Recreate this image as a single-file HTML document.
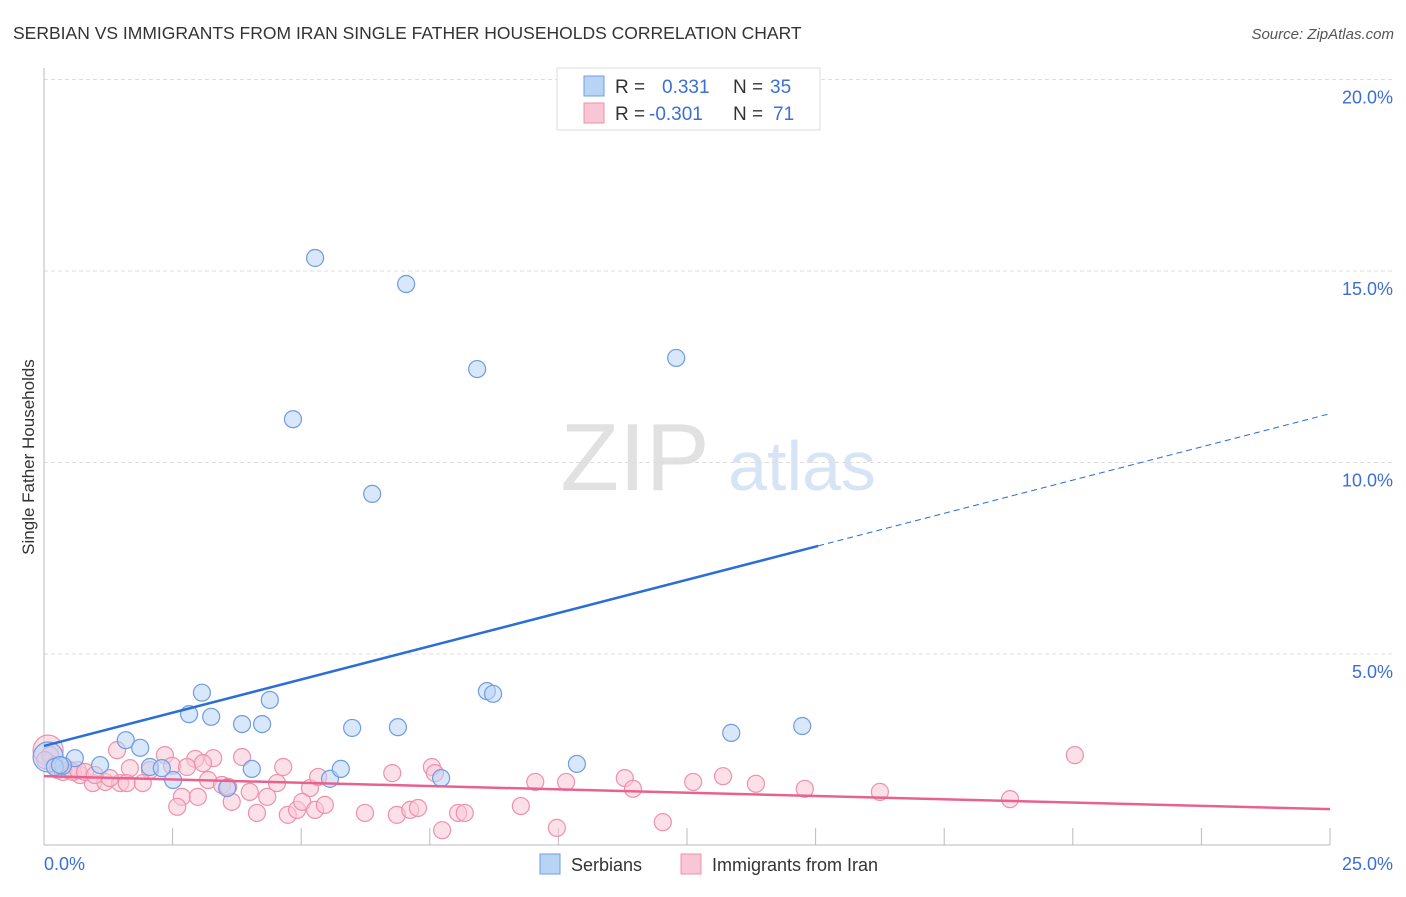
<!DOCTYPE html>
<html><head><meta charset="utf-8"><style>
body{margin:0;background:#fff;font-family:"Liberation Sans",sans-serif;}
svg text{font-family:"Liberation Sans",sans-serif;}
</style></head><body>
<svg id="chart" width="1406" height="892" xmlns="http://www.w3.org/2000/svg">
<text x="13" y="39" font-size="17.5" fill="#333">SERBIAN VS IMMIGRANTS FROM IRAN SINGLE FATHER HOUSEHOLDS CORRELATION CHART</text>
<text x="1394" y="39" font-size="15" fill="#555" text-anchor="end" font-style="italic">Source: ZipAtlas.com</text>
<text transform="translate(34,457) rotate(-90)" font-size="17" fill="#333" text-anchor="middle">Single Father Households</text>
<g opacity="0.35">
<text x="635" y="490" font-size="96" font-family="Liberation Serif" fill="#aaa" text-anchor="middle">ZIP</text>
<text x="802" y="490" font-size="70" fill="#8fb3e6" text-anchor="middle">atlas</text>
</g>
<g id="grid"></g><g id="axes"></g><g id="marks"></g>
<g>
<rect x="557" y="68" width="263" height="62" fill="#fff" stroke="#ddd"/>
<rect x="584" y="76" width="20" height="20" fill="#b9d3f5" stroke="#6d9de0"/>
<rect x="584" y="103" width="20" height="20" fill="#f9c6d6" stroke="#ee90ae"/>
<text x="615" y="93" font-size="19" fill="#333">R = </text><text x="662" y="93" font-size="19" fill="#3b6fd4">0.331</text>
<text x="733" y="93" font-size="19" fill="#333">N = </text><text x="770" y="93" font-size="19" fill="#3b6fd4">35</text>
<text x="615" y="120" font-size="19" fill="#333">R = </text><text x="649" y="120" font-size="19" fill="#3b6fd4">-0.301</text>
<text x="733" y="120" font-size="19" fill="#333">N = </text><text x="773" y="120" font-size="19" fill="#3b6fd4">71</text>
</g>
<g>
<rect x="540" y="854" width="20" height="20" fill="#b9d3f5" stroke="#6d9de0"/>
<text x="571" y="871" font-size="18" fill="#333">Serbians</text>
<rect x="681" y="854" width="20" height="20" fill="#f9c6d6" stroke="#ee90ae"/>
<text x="712" y="871" font-size="18" fill="#333">Immigrants from Iran</text>
</g>
</svg>
<script>
const yTicks=[5,10,15,20];
const xTickVals=[2.5,5,7.5,10,12.5,15,17.5,20,22.5,25];
const blueX=[0.08,5.27,7.04,8.42,12.29,4.84,6.38,3.07,4.39,2.82,3.25,3.85,4.24,5.99,6.88,8.61,8.73,13.36,14.74,1.59,1.87,0.60,1.09,0.37,0.21,2.06,2.29,2.51,3.56,4.04,5.56,5.77,7.72,10.36,0.31];
const blueY=[2.31,15.34,14.66,12.44,12.73,11.13,9.18,3.99,3.80,3.43,3.36,3.17,3.17,3.07,3.09,4.03,3.96,2.94,3.12,2.75,2.55,2.28,2.10,2.08,2.05,2.05,2.02,1.71,1.50,2.00,1.74,2.00,1.76,2.13,2.10];
const pinkX=[0.08,1.42,2.35,2.94,3.29,3.85,4.65,6.77,7.54,7.60,1.67,2.06,2.49,2.78,3.09,0.95,1.19,1.48,1.61,1.92,0.70,0.51,3.19,3.46,3.58,4.00,4.34,4.53,5.17,5.33,2.68,2.99,2.59,3.65,4.14,4.74,4.92,5.02,5.27,5.46,6.24,6.86,7.12,7.27,7.74,8.05,9.55,10.15,11.29,11.45,12.62,13.20,13.84,14.79,8.18,9.27,9.97,12.03,16.25,18.78,20.04,0.12,0.21,0.27,0.37,0.47,0.56,0.66,0.80,0.99,1.28,0.02];
const pinkY=[2.49,2.49,2.36,2.26,2.28,2.31,2.05,1.89,2.05,1.89,2.02,1.97,2.08,2.05,2.15,1.63,1.66,1.63,1.63,1.63,1.84,1.97,1.71,1.58,1.53,1.40,1.27,1.63,1.50,1.79,1.27,1.27,1.01,1.14,0.85,0.80,0.93,1.14,0.93,1.06,0.85,0.80,0.93,0.98,0.40,0.85,1.66,1.66,1.76,1.48,1.66,1.81,1.61,1.48,0.85,1.03,0.46,0.61,1.40,1.21,2.36,2.36,2.10,1.97,1.92,1.97,1.92,1.97,1.92,1.84,1.76,2.23];
const blueTrend=[2.60,0.347];
const pinkTrend=[1.81,-0.0344];
const NS="http://www.w3.org/2000/svg";
function X(v){return 44+v*51.44;}
function Y(v){return 845.5-v*38.3;}
function mk(tag,attrs,parent){const e=document.createElementNS(NS,tag);for(const k in attrs)e.setAttribute(k,attrs[k]);parent.appendChild(e);return e;}
const grid=document.getElementById('grid'),axes=document.getElementById('axes'),marks=document.getElementById('marks');
yTicks.forEach(t=>{
 const l=mk('line',{x1:44,x2:1394,y1:Y(t),y2:Y(t),stroke:'#ddd','stroke-dasharray':'4,3'},grid);
 
 
 const tx=mk('text',{x:1393,y:Y(t)+24,'font-size':18,fill:'#3b6fd4','text-anchor':'end'},grid);
 tx.textContent=t.toFixed(1)+'%';
 
 
});
let a=mk('line',{x1:44,x2:44,y1:68,y2:845,stroke:'#bbb'},axes);


a=mk('line',{x1:44,x2:1330,y1:845,y2:845,stroke:'#bbb'},axes);


xTickVals.forEach(t=>{
 const l=mk('line',{x1:X(t),x2:X(t),y1:828,y2:845,stroke:'#bbb'},axes);
 
 
});
let tl=mk('text',{x:44,y:870,'font-size':18,fill:'#3b6fd4'},axes);tl.textContent='0.0%';


tl=mk('text',{x:1393,y:870,'font-size':18,fill:'#3b6fd4','text-anchor':'end'},axes);tl.textContent='25.0%';


function pts(xs,ys,fill,stroke,name){
 xs.forEach((v,i)=>{
  const c=mk('circle',{cx:X(v),cy:Y(ys[i]),r:i===0?15:8.5,fill:fill,'fill-opacity':0.55,stroke:stroke,'stroke-width':1.2},marks);
  
  
 });
}
pts(pinkX,pinkY,'#f9c6d6','#ee90ae','iran-point');
pts(blueX,blueY,'#b9d3f5','#6d9de0','serbian-point');
let t=mk('line',{x1:X(0),y1:Y(blueTrend[0]),x2:X(15.05),y2:Y(blueTrend[0]+blueTrend[1]*15.05),stroke:'#2a6fd6','stroke-width':2.5},marks);


t=mk('line',{x1:X(15.05),y1:Y(blueTrend[0]+blueTrend[1]*15.05),x2:X(24.95),y2:Y(blueTrend[0]+blueTrend[1]*24.95),stroke:'#2a6fd6','stroke-width':1,'stroke-dasharray':'6,4'},marks);


t=mk('line',{x1:X(0),y1:Y(pinkTrend[0]),x2:X(25),y2:Y(pinkTrend[0]+pinkTrend[1]*25),stroke:'#e9628f','stroke-width':2.5},marks);


</script>
</body></html>
